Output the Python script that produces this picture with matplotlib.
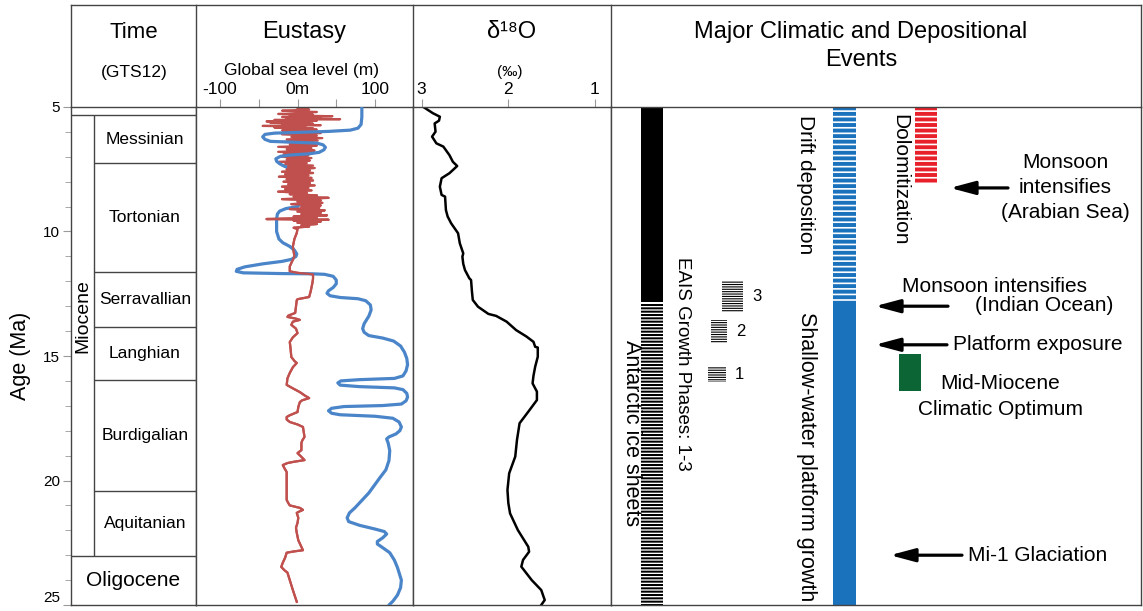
import matplotlib.pyplot as plt
from matplotlib.lines import Line2D

plt.rcParams['font.family'] = ['Liberation Sans', 'DejaVu Sans']

# --- data -------------------------------------------------------------------
stage_names = ['Messinian', 'Tortonian', 'Serravallian', 'Langhian', 'Burdigalian', 'Aquitanian']
stage_top = [5.33, 7.25, 11.63, 13.82, 15.97, 20.44]
stage_base = [7.25, 11.63, 13.82, 15.97, 20.44, 23.03]
miocene_span = (5.33, 23.03)

# long-term sea level (m)
blue_age = [5.00, 5.40, 5.70, 5.85, 5.93, 5.98, 6.02, 6.05, 6.10, 6.20, 6.30, 6.38, 6.42, 6.45,
            6.52, 6.62, 6.72, 6.82, 6.88, 6.93, 6.98, 7.08, 7.18, 7.28, 7.38, 7.45, 7.60, 8.00,
            8.50, 8.90, 9.00, 9.08, 9.18, 9.30, 9.50, 10.00, 10.30, 10.45, 10.60, 10.75, 10.90,
            11.00, 11.12, 11.20, 11.30, 11.42, 11.52, 11.60, 11.66, 11.69, 11.70, 11.72, 11.80,
            11.95, 12.10, 12.25, 12.38, 12.48, 12.58, 12.65, 12.70, 12.78, 12.95, 13.15, 13.40,
            13.70, 13.90, 14.05, 14.18, 14.28, 14.40, 14.60, 14.85, 15.10, 15.35, 15.60, 15.80,
            15.90, 15.95, 16.00, 16.08, 16.17, 16.23, 16.28, 16.35, 16.50, 16.65, 16.80, 16.93,
            16.99, 17.03, 17.10, 17.20, 17.30, 17.36, 17.42, 17.50, 17.65, 17.85, 18.00, 18.13,
            18.25, 18.33, 18.50, 18.80, 19.20, 19.57, 19.90, 20.20, 20.50, 20.80, 21.10, 21.30,
            21.50, 21.65, 21.80, 21.95, 22.05, 22.15, 22.30, 22.45, 22.55, 22.70, 22.90, 23.20,
            23.50, 24.00, 24.30, 24.60, 24.85, 25.00]
blue_sl = [83, 83, 82, 78, 68, 40, 0, -30, -42, -45, -42, -35, 0, 25,
           33, 36, 34, 28, 15, -10, -22, -28, -27, -23, -17, -10, -5, 0,
           2, 3, 0, -15, -23, -26, -27, -27, -24, -19, -10, -4, -1,
           -2, -8, -20, -45, -68, -78, -79, -70, -20, 20, 35, 46,
           50, 50, 46, 40, 38, 42, 55, 78, 88, 94, 95, 92,
           86, 84, 86, 92, 110, 124, 133, 138, 141, 142, 140, 136,
           125, 80, 56, 52, 55, 80, 125, 136, 141, 142, 140, 134,
           110, 60, 44, 40, 44, 55, 100, 123, 131, 134, 132, 127,
           118, 115, 117, 119, 118, 114, 106, 99, 92, 83, 74, 67,
           64, 66, 80, 100, 112, 115, 110, 103, 103, 110, 119, 125,
           129, 134, 133, 129, 123, 118]

# short-term sea level (m)
red_age = [5.05, 5.10, 5.15, 5.20, 5.25, 5.28, 5.31, 5.34, 5.37, 5.40, 5.43, 5.46, 5.49, 5.52,
           5.55, 5.58, 5.61, 5.64, 5.67, 5.70, 5.73, 5.76, 5.79, 5.82, 5.85, 5.88, 5.91, 5.94,
           5.97, 6.00, 6.05, 6.10, 6.15, 6.20, 6.25, 6.30, 6.35, 6.40, 6.45, 6.50, 6.55, 6.60,
           6.65, 6.70, 6.75, 6.80, 6.85, 6.90, 6.95, 7.00, 7.05, 7.10, 7.15, 7.20, 7.25, 7.30,
           7.35, 7.40, 7.45, 7.50, 7.55, 7.60, 7.65, 7.70, 7.75, 7.80, 7.85, 7.90, 7.95, 8.00,
           8.05, 8.10, 8.15, 8.20, 8.25, 8.30, 8.35, 8.40, 8.45, 8.50, 8.55, 8.60, 8.65, 8.70,
           8.75, 8.80, 8.85, 8.90, 8.95, 9.00, 9.05, 9.10, 9.15, 9.20, 9.25, 9.30, 9.35, 9.40,
           9.45, 9.50, 9.53, 9.56, 9.60, 9.65, 9.70, 9.75, 9.80, 9.85, 9.90, 10.06, 10.30,
           10.60, 11.00, 11.40, 11.60, 11.66, 11.72, 11.90, 12.10, 12.40, 12.63, 12.72, 12.76,
           13.00, 13.27, 13.38, 13.43, 13.50, 13.55, 13.62, 13.75, 13.90, 14.08, 14.25, 14.44,
           14.70, 15.04, 15.20, 15.28, 15.45, 15.68, 15.90, 16.16, 16.30, 16.45, 16.60, 16.69,
           16.78, 16.85, 17.05, 17.25, 17.38, 17.45, 17.55, 17.65, 17.75, 17.85, 18.05, 18.25,
           18.40, 18.50, 18.78, 18.85, 18.90, 19.05, 19.18, 19.25, 19.30, 19.38, 19.50, 19.66,
           20.00, 20.40, 20.78, 20.90, 21.00, 21.10, 21.18, 21.25, 21.30, 21.50, 21.70, 21.90,
           22.10, 22.40, 22.60, 22.80, 22.85, 22.90, 23.10, 23.30, 23.47, 23.60, 23.70, 24.00,
           24.40, 24.87]
red_sl = [0, 15, -20, 25, 5, -25, 20, -10, 45, -20, 30, -15, 55, -30,
          25, -40, 15, -35, 20, -20, 30, -45, 10, -30, 20, -15, 25, -20,
          15, -12, 30, -20, 25, -8, 32, -14, 26, -20, 22, -10, 25, -25,
          18, -14, 22, -25, 15, -18, 14, -22, 18, -14, 16, -24, 12, -16,
          20, -12, 22, -14, 16, -20, 20, -16, 14, -24, 18, -14, 20, -18,
          16, -12, 22, -20, 14, -16, 18, -25, 12, -10, 25, -5, 40, -20,
          30, 0, 32, -8, 30, 5, 28, -10, 35, 0, 30, 5, 38, -5,
          25, -40, 40, -5, 30, 0, 25, 5, 15, -5, 0, -1, -4,
          -6, -4, -10, -10, 0, 20, 20, 19, 17, 15, 0, -1,
          -2, -3, -12, -13, -2, 3, -6, -8, -2, 0, -6, -10,
          -9, -8, -4, -1, -6, -10, -13, -14, -6, 3, 10, 15,
          6, 3, 1, 0, -10, -14, -14, -10, 0, 7, 8, 9,
          6, 5, 5, 2, 0, 5, 9, -5, -13, -19, -17, -14,
          -14, -14, -14, -12, -10, 3, 7, 2, -1, 1, 0, -2,
          -1, 1, 4, 7, -5, -14, -16, -19, -21, -17, -13, -10,
          -6, -1]

# benthic oxygen isotopes (permil)
d18o_age = [5.00, 5.25, 5.39, 5.55, 5.66, 5.99, 6.19, 6.46, 6.59, 6.93, 7.20, 7.37, 7.50, 7.66,
            7.86, 8.20, 8.53, 8.60, 9.14, 9.40, 9.67, 10.07, 10.47, 10.88, 11.01, 11.30, 11.55,
            11.88, 11.95, 12.40, 12.75, 13.02, 13.31, 13.39, 13.62, 13.96, 14.22, 14.43, 14.63,
            14.66, 15.03, 15.43, 15.80, 16.10, 16.43, 16.77, 17.24, 17.70, 18.37, 19.04, 19.71,
            20.38, 20.90, 21.32, 21.99, 22.66, 22.86, 23.19, 23.46, 24.00, 24.40, 24.80, 25.00]
d18o_val = [2.98, 2.87, 2.79, 2.80, 2.85, 2.84, 2.88, 2.83, 2.75, 2.68, 2.64, 2.59, 2.63, 2.68,
            2.77, 2.79, 2.77, 2.73, 2.72, 2.70, 2.66, 2.58, 2.56, 2.52, 2.53, 2.52, 2.50,
            2.45, 2.43, 2.42, 2.41, 2.35, 2.23, 2.14, 2.02, 1.91, 1.79, 1.71, 1.69,
            1.66, 1.66, 1.69, 1.71, 1.72, 1.67, 1.67, 1.77, 1.87, 1.90, 1.92, 1.99,
            2.01, 2.00, 1.98, 1.89, 1.77, 1.76, 1.83, 1.85, 1.73, 1.62, 1.58, 1.62]

# event ranges (Ma)
ice_solid = (5.0, 12.85)
ice_striped = (12.9, 25.0)
eais_phases = ['1', '2', '3']
eais_top = [15.44, 13.55, 11.99]
eais_base = [16.04, 14.48, 13.23]
drift = (5.0, 12.9)
platform = (12.9, 25.0)
dolomite = (5.05, 8.1)
mmco = (14.9, 16.4)
arrow_labels = ['Monsoon\nintensifies\n(Arabian Sea)', 'Monsoon intensifies',
                'Platform exposure', 'Mi-1 Glaciation']
arrow_ages = [8.25, 13.0, 14.55, 23.0]

# --- figure -----------------------------------------------------------------
W, H = 1143, 611
fig = plt.figure(figsize=(W / 100, H / 100), dpi=100)
frame_c = '#444444'
tick_c = '#9a9a9a'


def box(x0, x1, y0=107, y1=605):
    return [x0 / W, 1 - y1 / H, (x1 - x0) / W, (y1 - y0) / H]


def ftext(px, py, s, **kw):
    fig.text(px / W, 1 - py / H, s, ha='center', va='center', **kw)


ax_t = fig.add_axes(box(71, 196))
ax_e = fig.add_axes(box(196, 413))
ax_o = fig.add_axes(box(413, 611))
ax_v = fig.add_axes(box(611, 1141))

for ax in (ax_t, ax_e, ax_o, ax_v):
    ax.set_ylim(25, 5)
    for sp in ax.spines.values():
        sp.set_color(frame_c)
        sp.set_linewidth(1.0)
    ax.set_xticks([])
    ax.set_yticks([])

# header grid
for x in (71, 196, 413, 611, 1141):
    fig.add_artist(Line2D([x / W, x / W], [1 - 5 / H, 1 - 107 / H], color=frame_c, lw=1.0))
fig.add_artist(Line2D([71 / W, 1141 / W], [1 - 5 / H, 1 - 5 / H], color=frame_c, lw=1.0))

# --- time column ------------------------------------------------------------
ax_t.set_xlim(0, 1)
ax_t.set_yticks([5, 10, 15, 20, 25])
ax_t.set_yticks(range(5, 26), minor=True)
ax_t.tick_params(axis='y', which='both', direction='out', color=tick_c, labelsize=11, pad=2)
ax_t.tick_params(axis='y', which='major', length=6)
ax_t.tick_params(axis='y', which='minor', length=4)
for lab in ax_t.get_yticklabels():
    if lab.get_text() == '25':
        lab.set_va('bottom')
ax_t.set_ylabel('Age (Ma)', fontsize=15.5)
ax_t.yaxis.set_label_coords((31 - 71) / 125, 0.5)

split = (94 - 71) / 125
ax_t.hlines(miocene_span, 0, 1, color=frame_c, lw=1.0)
ax_t.vlines(split, *miocene_span, color=frame_c, lw=1.0)
ax_t.hlines(stage_base[:-1], split, 1, color=frame_c, lw=1.0)
for name, top, base in zip(stage_names, stage_top, stage_base):
    ax_t.text((split + 1) / 2, (top + base) / 2, name, ha='center', va='center', fontsize=12.5)
ax_t.text(split / 2, 13.4, 'Miocene', rotation=90, ha='center', va='center', fontsize=14)
ax_t.text(0.5, (miocene_span[1] + 25) / 2, 'Oligocene', ha='center', va='center', fontsize=15)

ftext(134, 32, 'Time', fontsize=16)
ftext(134, 72, '(GTS12)', fontsize=12.5)

# --- eustasy ----------------------------------------------------------------
ax_e.set_xlim(-131, 149)
ax_e.xaxis.tick_top()
ax_e.set_xticks([-100, -50, 0, 50, 100])
ax_e.set_xticklabels(['-100', '', '0m', '', '100'])
ax_e.tick_params(axis='x', direction='out', length=6, color=tick_c, labelsize=12.5, pad=1)
red_c = '#c0504d'
ax_e.plot(red_sl, red_age, color=red_c, lw=1.6, zorder=2)
ax_e.plot(blue_sl, blue_age, color='#4a85c9', lw=2.3, zorder=3, solid_capstyle='round')
# the dense late-Tortonian record sits above the long-term curve
lower = [i for i, a in enumerate(red_age) if a >= 7.4]
ax_e.plot([red_sl[i] for i in lower], [red_age[i] for i in lower], color=red_c, lw=1.6, zorder=4)
ftext(304, 32, 'Eustasy', fontsize=17)
ftext(301, 70, 'Global sea level (m)', fontsize=12.5)

# --- oxygen isotopes ----------------------------------------------------------
ax_o.set_xlim(3.10, 0.815)
ax_o.xaxis.tick_top()
ax_o.set_xticks([3, 2, 1])
ax_o.set_xticklabels(['3', '2', '1'])
ax_o.tick_params(axis='x', direction='out', length=6, color=tick_c, labelsize=12.5, pad=1)
ax_o.plot(d18o_val, d18o_age, color='black', lw=1.8)
ftext(512, 32, 'δ¹⁸O', fontsize=17)
ftext(510, 72, '(‰)', fontsize=11)

# --- events -----------------------------------------------------------------
ax_v.set_xlim(0, 530)


def bar(x0, x1, span, hatch=None, color='black', hlw=1.0):
    if hatch is None:
        ax_v.bar((x0 + x1) / 2, span[1] - span[0], bottom=span[0], width=x1 - x0,
                 color=color, lw=0)
        return
    plt.rcParams['hatch.linewidth'] = hlw
    bars = ax_v.bar((x0 + x1) / 2, span[1] - span[0], bottom=span[0], width=x1 - x0,
                    facecolor='white', edgecolor=color, hatch=hatch, lw=0)
    for p in bars:
        if hasattr(p, 'set_hatch_linewidth'):
            p.set_hatch_linewidth(hlw)


# Antarctic ice sheets
bar(30, 52, ice_solid)
bar(30, 52, ice_striped, hatch='-----', hlw=1.45)
ax_v.text(20, 18.1, 'Antarctic ice sheets', rotation=-90, ha='center', va='center', fontsize=15.5)

# EAIS growth phases
ax_v.text(72, 15.3, 'EAIS Growth Phases: 1-3', rotation=-90, ha='center', va='center',
          fontsize=13.5)
eais_x = [(97, 115), (100, 116), (111, 132)]
for lab, top, base, (x0, x1) in zip(eais_phases, eais_top, eais_base, eais_x):
    bar(x0, x1, (top, base), hatch='-------', hlw=0.8)
    ax_v.text(x1 + 9, (top + base) / 2, lab, ha='left', va='center', fontsize=12)

# drift / platform
bar(222, 245, drift, hatch='---', color='#1a72bd', hlw=2.8)
bar(222, 245, platform, color='#1a72bd')
ax_v.text(195, 8.13, 'Drift deposition', rotation=-90, ha='center', va='center', fontsize=15)
ax_v.text(195, 19.05, 'Shallow-water platform growth', rotation=-90, ha='center', va='center',
          fontsize=15.5)

# dolomitization
bar(304, 326, dolomite, hatch='---', color='#e8202a', hlw=2.8)
ax_v.text(289, 7.93, 'Dolomitization', rotation=-90, ha='center', va='center', fontsize=15)

# mid-Miocene climatic optimum
bar(288, 310, mmco, color='#0b6535')
ax_v.text(389, 16.12, 'Mid-Miocene', ha='center', va='center', fontsize=15)
ax_v.text(389, 17.13, 'Climatic Optimum', ha='center', va='center', fontsize=15)

# arrows
arrow_x = [(339, 397), (264, 337), (264, 336), (279, 351)]
for lab, age, (hx, tx) in zip(arrow_labels, arrow_ages, arrow_x):
    ax_v.annotate('', xy=(hx, age), xytext=(tx, age),
                  arrowprops=dict(arrowstyle='-|>,head_length=1.5,head_width=0.4',
                                  color='black', lw=2.3, shrinkA=0, shrinkB=0,
                                  mutation_scale=10))
ax_v.text(454, arrow_ages[0] - 0.02, arrow_labels[0], ha='center', va='center', fontsize=15,
          linespacing=1.42)
ax_v.text(291, 12.19, arrow_labels[1], ha='left', va='center', fontsize=15)
ax_v.text(502, 12.99, '(Indian Ocean)', ha='right', va='center', fontsize=15)
ax_v.text(342, arrow_ages[2], arrow_labels[2], ha='left', va='center', fontsize=15)
ax_v.text(357, arrow_ages[3], arrow_labels[3], ha='left', va='center', fontsize=15)

ftext(861, 32, 'Major Climatic and Depositional', fontsize=17)
ftext(861, 60, 'Events', fontsize=17)

fig.savefig('out.png', dpi=100)
